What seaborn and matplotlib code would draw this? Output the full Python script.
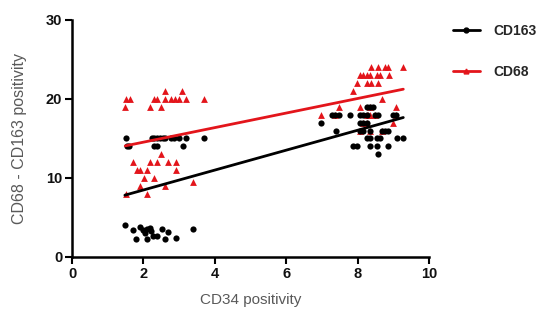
import matplotlib
matplotlib.use("Agg")
import matplotlib.pyplot as plt
import seaborn as sns
import numpy as np
import pandas as pd
from matplotlib.lines import Line2D

# ---- data ----
cd68_x = [1.51, 1.62, 2.30, 2.38, 2.61, 2.77, 2.89, 3.00, 3.19, 3.70,
          2.61, 3.08,
          1.49, 2.19, 2.49,
          2.49,
          1.70, 2.19, 2.38, 2.69, 2.91,
          1.82, 1.90, 2.10, 2.91,
          2.01, 2.30,
          3.39,
          1.90, 2.61,
          1.51, 2.10,
          8.37, 8.58, 8.77, 8.86, 9.28,
          8.07, 8.16, 8.25, 8.35, 8.54, 8.63, 8.89,
          7.97, 8.25, 8.37, 8.58,
          7.88,
          8.67,
          7.48, 8.07, 8.35, 9.07,
          6.97, 8.30,
          9.00,
          8.25, 8.35, 8.49, 8.16, 8.25, 8.07, 8.35, 8.67, 9.08, 7.37]
cd68_y = [20, 20, 20, 20, 20, 20, 20, 20, 20, 20,
          21, 21,
          19, 19, 19,
          13,
          12, 12, 12, 12, 12,
          11, 11, 11, 11,
          10, 10,
          9.5,
          9, 9,
          8, 8,
          24, 24, 24, 24, 24,
          23, 23, 23, 23, 23, 23, 23,
          22, 22, 22, 22,
          21,
          20,
          19, 19, 19, 19,
          18, 18,
          17,
          18, 18, 18, 17, 17, 16, 16, 16, 18, 18]

cd163_x = [1.51, 2.24, 2.30, 2.38, 2.46, 2.55, 2.61, 2.77, 2.86, 3.00, 3.19, 3.70,
           1.54, 1.60, 2.30, 2.38, 3.11,
           1.48, 1.70, 1.90, 2.00, 2.09, 2.18, 2.20, 2.04, 2.28, 2.37, 2.51, 2.70,
           1.79, 2.09, 2.59, 2.90, 3.40,
           8.25, 8.35, 8.44,
           7.27, 7.37, 7.49, 7.79, 8.07, 8.16, 8.25, 8.49, 8.58, 8.98, 9.08,
           6.97, 8.07, 8.16, 8.25,
           7.39, 8.07, 8.16, 8.35, 8.67, 8.77, 8.86,
           8.25, 8.35, 8.54, 8.63, 9.09, 9.28,
           7.86, 7.97, 8.35, 8.54, 8.86,
           8.56]
cd163_y = [15, 15, 15, 15, 15, 15, 15, 15, 15, 15, 15, 15,
           14, 14, 14, 14, 14,
           4.0, 3.4, 3.8, 3.4, 3.6, 3.7, 3.3, 3.0, 2.7, 2.6, 3.5, 3.1,
           2.3, 2.3, 2.3, 2.4, 3.6,
           19, 19, 19,
           18, 18, 18, 18, 18, 18, 18, 18, 18, 18, 18,
           17, 17, 17, 17,
           16, 16, 16, 16, 16, 16, 16,
           15, 15, 15, 15, 15, 15,
           14, 14, 14, 14, 14,
           13]

series_names = ["CD163", "CD68"]
x_ticks = [0, 2, 4, 6, 8, 10]
y_ticks = [0, 10, 20, 30]

RED = "#e3151b"
BLACK = "#000000"

sns.set_theme(style="ticks")
plt.rcParams['font.family'] = ['Liberation Sans', 'DejaVu Sans']

fig = plt.figure(figsize=(5.5, 3.22), dpi=100)
ax = fig.add_axes([0.131, 0.202, 0.649, 0.736])

sns.regplot(x=cd68_x, y=cd68_y, ax=ax, ci=None, truncate=True, marker="^",
            color=RED, scatter_kws=dict(s=24, linewidths=0, alpha=1, zorder=1),
            line_kws=dict(lw=2, zorder=4))
sns.regplot(x=cd163_x, y=cd163_y, ax=ax, ci=None, truncate=True, marker="o",
            color=BLACK, scatter_kws=dict(s=20, linewidths=0, alpha=1, zorder=2),
            line_kws=dict(lw=2, zorder=3))

ax.set_xlim(0, 10)
ax.set_ylim(0, 30)
ax.set_xticks(x_ticks)
ax.set_yticks(y_ticks)
sns.despine(ax=ax)
for s in ["left", "bottom"]:
    ax.spines[s].set_linewidth(1.8)
    ax.spines[s].set_color("black")
ax.tick_params(axis="both", direction="out", length=5, width=1.5, color="black",
               labelsize=10.5, labelcolor="#111111", pad=2)
for lab in ax.get_xticklabels() + ax.get_yticklabels():
    lab.set_fontweight("bold")

ax.set_xlabel("CD34 positivity", fontsize=11, color="#595959", labelpad=9)
ax.set_ylabel("CD68 - CD163 positivity", fontsize=11.5, color="#595959", labelpad=14)

handles = [Line2D([0], [0], color=BLACK, lw=2, marker="o", markersize=3.5),
           Line2D([0], [0], color=RED, lw=2, marker="^", markersize=3.5)]
leg = fig.legend(handles, series_names, loc="upper left",
                 bbox_to_anchor=(0.824, 0.925), frameon=False, borderpad=0,
                 borderaxespad=0, handlelength=1.9, handletextpad=1.0,
                 labelspacing=1.95, prop=dict(size=10, weight="bold"))

fig.savefig("out.png", dpi=100)
